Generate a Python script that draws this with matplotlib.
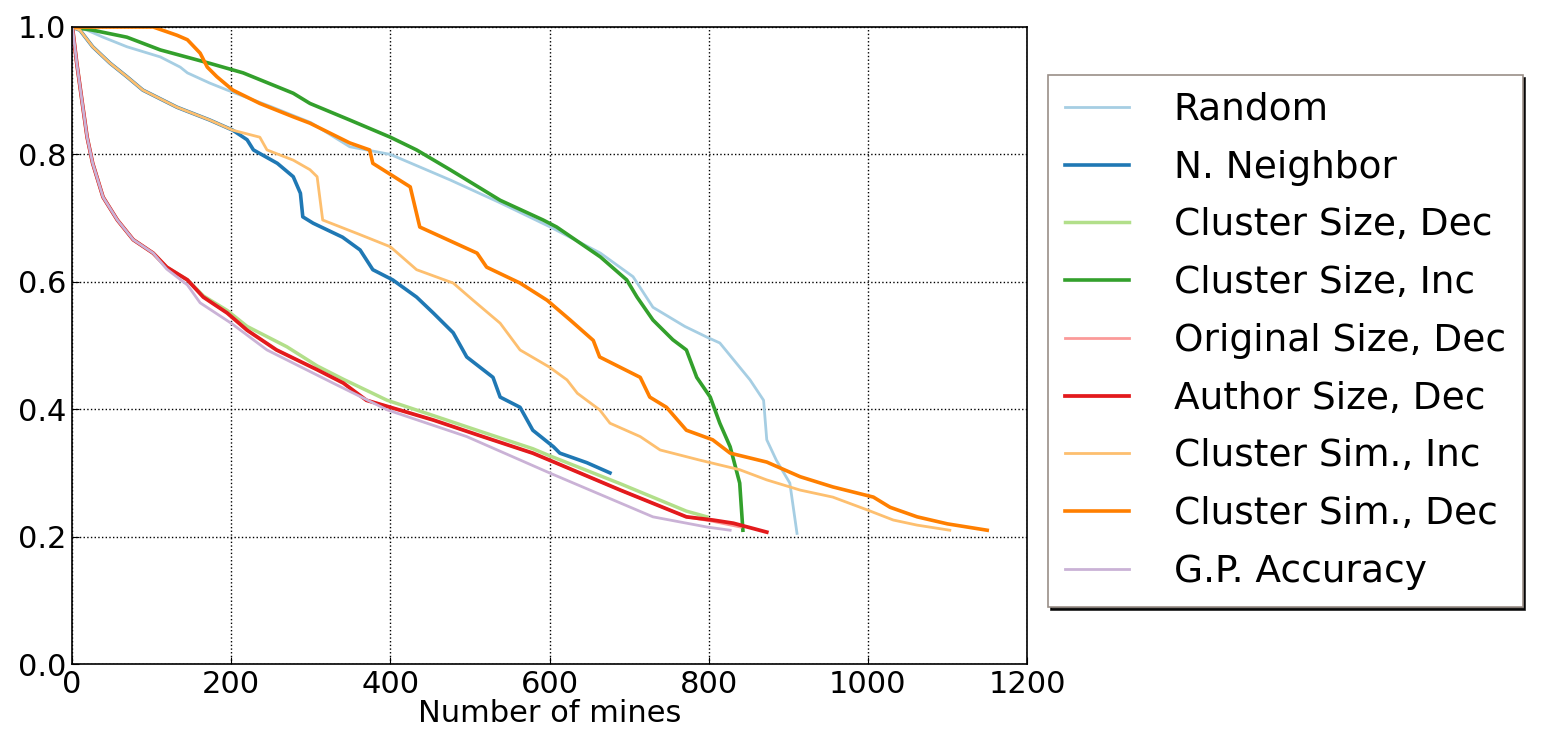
import matplotlib
matplotlib.use("Agg")
import matplotlib.pyplot as plt

# series (x = number of mines, y = fraction)
labels = ["Random", "N. Neighbor", "Cluster Size, Dec", "Cluster Size, Inc",
          "Original Size, Dec", "Author Size, Dec", "Cluster Sim., Inc",
          "Cluster Sim., Dec", "G.P. Accuracy"]

random_x = [0, 19, 39, 69, 111, 136, 145, 173, 195, 250, 300, 349, 400, 475, 538,
            601, 664, 705, 730, 770, 798, 814, 852, 869, 873, 885, 902, 911]
random_y = [1.0, 0.995, 0.984, 0.969, 0.953, 0.937, 0.928, 0.912, 0.901, 0.875, 0.85,
            0.812, 0.80, 0.76, 0.724, 0.686, 0.645, 0.608, 0.56, 0.53, 0.513, 0.504,
            0.446, 0.414, 0.352, 0.32, 0.284, 0.205]

neighbor_x = [0, 10, 26, 48, 69, 89, 132, 173, 202, 220, 228, 258, 278, 287, 290, 303,
              340, 362, 378, 403, 433, 454, 479, 496, 529, 538, 563, 579, 605, 613,
              647, 676]
neighbor_y = [1.0, 0.995, 0.969, 0.943, 0.922, 0.901, 0.874, 0.854, 0.838, 0.823, 0.807,
              0.786, 0.765, 0.739, 0.702, 0.692, 0.67, 0.65, 0.619, 0.603, 0.576, 0.551,
              0.52, 0.482, 0.45, 0.419, 0.403, 0.367, 0.341, 0.331, 0.316, 0.30]

csize_dec_x = [0, 1, 6, 13, 19, 26, 39, 57, 77, 102, 119, 145, 165, 195, 220, 270, 308,
               341, 396, 454, 516, 579, 600, 689, 772, 798]
csize_dec_y = [1.0, 0.995, 0.943, 0.88, 0.827, 0.786, 0.733, 0.697, 0.666, 0.645, 0.623,
               0.603, 0.578, 0.555, 0.53, 0.498, 0.468, 0.447, 0.414, 0.39, 0.364, 0.338,
               0.327, 0.283, 0.24, 0.231]

csize_inc_x = [0, 26, 69, 111, 173, 215, 278, 299, 349, 400, 433, 475, 538, 592, 609,
               664, 697, 710, 730, 755, 772, 785, 802, 814, 827, 839, 843]
csize_inc_y = [1.0, 0.995, 0.984, 0.964, 0.943, 0.928, 0.896, 0.88, 0.854, 0.827, 0.807,
               0.776, 0.728, 0.697, 0.686, 0.639, 0.603, 0.576, 0.54, 0.509, 0.493, 0.45,
               0.419, 0.378, 0.341, 0.284, 0.21]

orig_x = [0, 1, 6, 13, 19, 26, 39, 57, 77, 102, 119, 145, 165, 195, 220, 257, 308, 341,
          370, 400, 454, 516, 579, 600, 689, 772, 805, 840]
orig_y = [1.0, 0.995, 0.943, 0.88, 0.827, 0.786, 0.733, 0.697, 0.666, 0.645, 0.623,
          0.603, 0.576, 0.551, 0.524, 0.493, 0.462, 0.441, 0.414, 0.403, 0.383, 0.357,
          0.331, 0.32, 0.273, 0.231, 0.224, 0.215]

author_x = [0, 1, 6, 13, 19, 26, 39, 57, 77, 102, 119, 145, 165, 195, 220, 257, 308, 341,
            370, 400, 454, 516, 579, 600, 689, 772, 805, 831, 873]
author_y = [1.0, 0.995, 0.943, 0.88, 0.827, 0.786, 0.733, 0.697, 0.666, 0.645, 0.623,
            0.603, 0.576, 0.551, 0.524, 0.493, 0.462, 0.441, 0.414, 0.403, 0.383, 0.357,
            0.331, 0.32, 0.273, 0.231, 0.226, 0.221, 0.207]

csim_inc_x = [0, 10, 26, 48, 69, 89, 132, 173, 202, 236, 245, 278, 299, 308, 315, 360,
              400, 433, 479, 504, 538, 563, 600, 622, 635, 663, 676, 714, 739, 789, 839,
              873, 915, 956, 999, 1032, 1062, 1103]
csim_inc_y = [1.0, 0.995, 0.969, 0.943, 0.922, 0.901, 0.874, 0.854, 0.838, 0.827, 0.807,
              0.791, 0.776, 0.765, 0.697, 0.675, 0.655, 0.619, 0.598, 0.571, 0.535, 0.493,
              0.466, 0.446, 0.425, 0.399, 0.378, 0.357, 0.336, 0.32, 0.305, 0.289, 0.273,
              0.262, 0.242, 0.226, 0.218, 0.21]

csim_dec_x = [0, 102, 132, 145, 161, 170, 182, 202, 236, 278, 299, 349, 374, 378, 425,
              437, 509, 521, 563, 597, 626, 655, 663, 714, 726, 747, 772, 805, 827, 873,
              915, 956, 1007, 1028, 1062, 1100, 1150]
csim_dec_y = [1.0, 1.0, 0.987, 0.98, 0.959, 0.937, 0.922, 0.901, 0.88, 0.859, 0.849,
              0.818, 0.807, 0.786, 0.749, 0.686, 0.645, 0.623, 0.598, 0.571, 0.54, 0.508,
              0.482, 0.45, 0.419, 0.403, 0.367, 0.352, 0.331, 0.317, 0.294, 0.278, 0.262,
              0.246, 0.231, 0.22, 0.21]

gp_x = [0, 1, 6, 13, 19, 26, 39, 57, 77, 102, 119, 145, 161, 200, 245, 328, 396, 496,
        600, 730, 798, 827]
gp_y = [1.0, 0.995, 0.943, 0.88, 0.827, 0.786, 0.733, 0.697, 0.666, 0.645, 0.62, 0.595,
        0.567, 0.535, 0.493, 0.441, 0.399, 0.357, 0.30, 0.231, 0.215, 0.21]

series = [(random_x, random_y), (neighbor_x, neighbor_y), (csize_dec_x, csize_dec_y),
          (csize_inc_x, csize_inc_y), (orig_x, orig_y), (author_x, author_y),
          (csim_inc_x, csim_inc_y), (csim_dec_x, csim_dec_y), (gp_x, gp_y)]

colors = ["#a6cee3", "#1f78b4", "#b2df8a", "#33a02c", "#fb9a99", "#e31a1c",
          "#fdbf6f", "#ff7f00", "#cab2d6"]
widths = [2.0, 2.6, 2.5, 2.6, 2.0, 2.7, 2.0, 2.6, 2.0]

fig = plt.figure(figsize=(15.45, 7.29), dpi=100)
ax = fig.add_axes([72 / 1545, 65 / 729, 955 / 1545, 637 / 729])

for (xs, ys), c, lw, lab in zip(series, colors, widths, labels):
    ax.plot(xs, ys, color=c, linewidth=lw, label=lab)

ax.set_xlim(0, 1200)
ax.set_ylim(0.0, 1.0)
ax.set_xticks(range(0, 1201, 200))
ax.set_yticks([0.0, 0.2, 0.4, 0.6, 0.8, 1.0])
ax.grid(True, color="k", linestyle=":", linewidth=1)
ax.tick_params(direction="in", labelsize=22, length=5, pad=4)
ax.set_xlabel("Number of mines", fontsize=22, labelpad=0)
for sp in ax.spines.values():
    sp.set_linewidth(1.2)

leg = ax.legend(loc="upper left", bbox_to_anchor=(1048 / 1545, 1 - 75 / 729),
                bbox_transform=fig.transFigure, borderaxespad=0, fontsize=27,
                frameon=True, fancybox=False, handlelength=1.7, handletextpad=1.2,
                labelspacing=0.58, borderpad=0.45,
                shadow={"color": "black", "alpha": 0.9})
leg.get_frame().set_edgecolor("#9a8f88")
leg.get_frame().set_linewidth(1.2)

fig.savefig("out.png", dpi=100)
